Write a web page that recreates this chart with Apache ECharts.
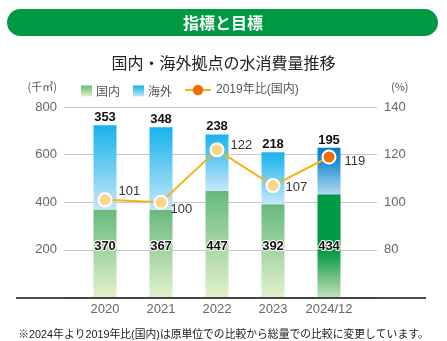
<!DOCTYPE html>
<html><head><meta charset="utf-8">
<script src="https://cdn.jsdelivr.net/npm/echarts@6/dist/echarts.min.js"></script>
<style>html,body{margin:0;padding:0;background:#fff}#c{width:447px;height:341px}</style>
</head><body><div id="c"></div>
<script>
const categories = ['2020', '2021', '2022', '2023', '2024/12'];
const domestic = [370, 367, 447, 392, 434];
const overseas = [353, 348, 238, 218, 195];
const ratio2019 = [101, 100, 122, 107, 119];
const leftTicks = [0, 200, 400, 600, 800];
const rightTicks = [60, 80, 100, 120, 140];

const FONT = '"Liberation Sans", "Noto Sans CJK JP", sans-serif';
const JP = '"Noto Sans CJK JP", "Liberation Sans", sans-serif';
function lg(stops){return {type:'linear',x:0,y:0,x2:0,y2:1,colorStops:stops.map(s=>({offset:s[0],color:s[1]}))};}
const domGrad = lg([[0,'#66BA7B'],[1,'#E3F1CB']]);
const domGradLast = lg([[0,'#009944'],[0.55,'#009944'],[0.8,'#6FBF80'],[1,'#C3E3BC']]);
const ovGrad = lg([[0,'#16B3EC'],[1,'#C6E7F8']]);
const ovGradLast = lg([[0,'#0080CC'],[0.3,'#1C8ED2'],[1,'#B2D8F1']]);
const labelOffsets = [[1,-8],[-3,7],[1,-4],[0,2],[3,4]];
const last = categories.length - 1;

const chart = echarts.init(document.getElementById('c'), null, {renderer:'canvas'});
chart.setOption({
  animation:false,
  textStyle:{fontFamily:FONT},
  title:[
    {text:'国内・海外拠点の水消費量推移', left:'center', top:50, textStyle:{fontFamily:JP, fontSize:16, fontWeight:'normal', color:'#222'}},
    {text:'※2024年より2019年比(国内)は原単位での比較から総量での比較に変更しています。', left:'center', top:325, textStyle:{fontFamily:FONT, fontSize:10.8, fontWeight:'normal', color:'#222'}}
  ],
  graphic:[
    {type:'rect', shape:{x:7,y:9,width:431,height:27,r:13.5}, style:{fill:'#009944'}},
    {type:'text', x:223, y:23, style:{text:'指標と目標', fill:'#fff', font:'bold 16px "Noto Sans CJK JP"', align:'center', verticalAlign:'middle'}},
    {type:'line', z:10, shape:{x1:16,y1:298,x2:426,y2:298}, style:{stroke:'#111', lineWidth:1.4}}
  ],
  legend:[
    {left:76, top:80, itemWidth:11, itemHeight:11, itemGap:13, icon:'rect',
     data:['国内','海外'], textStyle:{fontFamily:JP, fontSize:12, color:'#555', padding:[0,0,0,-1]}},
    {left:179, top:79, itemWidth:26, itemHeight:13, 
     data:[{name:'2019年比(国内)', itemStyle:{color:'#EE6C00', borderWidth:0}}], textStyle:{fontFamily:FONT, fontSize:12, color:'#555'}}
  ],
  grid:[
    {left:77, right:90, top:107, bottom:43.5},
    {left:64, right:70, top:107, bottom:43.5}
  ],
  xAxis:[
    {type:'category', gridIndex:0, data:categories, axisLine:{show:false}, axisTick:{show:false},
     axisLabel:{interval:0, margin:5, fontSize:13, color:'#666'}},
    {type:'category', gridIndex:1, data:categories, show:false}
  ],
  yAxis:[
    {type:'value', gridIndex:0, min:leftTicks[0], max:leftTicks[leftTicks.length-1], interval:200, show:false, splitLine:{show:false}},
    {type:'value', gridIndex:0, position:'right', min:rightTicks[0], max:rightTicks[rightTicks.length-1], interval:20, show:false, splitLine:{show:false}},
    {type:'value', gridIndex:1, min:leftTicks[0], max:leftTicks[leftTicks.length-1], interval:200,
     name:'(千㎥)', nameLocation:'end', nameGap:15, nameTextStyle:{fontFamily:JP, fontSize:11, color:'#555', align:'right', padding:[0,7,0,0]},
     axisLine:{show:false}, axisTick:{show:false},
     axisLabel:{showMinLabel:false, margin:7, fontSize:13, color:'#666'},
     splitLine:{lineStyle:{color:'#C8C8C8', width:1}}},
    {type:'value', gridIndex:1, position:'right', min:rightTicks[0], max:rightTicks[rightTicks.length-1], interval:20,
     name:'(%)', nameLocation:'end', nameGap:15, nameTextStyle:{fontFamily:JP, fontSize:11, color:'#555', align:'left', padding:[0,0,0,14]},
     axisLine:{show:false}, axisTick:{show:false},
     axisLabel:{showMinLabel:false, margin:7, fontSize:13, color:'#666'},
     splitLine:{show:false}}
  ],
  series:[
    {name:'国内', type:'bar', stack:'t', xAxisIndex:0, yAxisIndex:0, barWidth:23,
     itemStyle:{color:domGrad},
     data:domestic.map((v,i)=> i===last ? {value:v, itemStyle:{color:domGradLast}} : v),
     label:{show:true, position:'insideBottom', distance:45, fontSize:13, fontWeight:'bold', color:'#111', textBorderColor:'#fff', textBorderWidth:2}},
    {name:'海外', type:'bar', stack:'t', xAxisIndex:0, yAxisIndex:0, barWidth:23,
     itemStyle:{color:ovGrad},
     data:overseas.map((v,i)=> i===last ? {value:v, itemStyle:{color:ovGradLast}} : v),
     label:{show:true, position:'top', distance:1, fontSize:13, fontWeight:'bold', color:'#111', textBorderColor:'#fff', textBorderWidth:2}},
    {name:'2019年比(国内)', type:'line', xAxisIndex:0, yAxisIndex:1, z:5,
     symbol:'circle', symbolSize:13,
     lineStyle:{color:'#F5B21A', width:2},
     itemStyle:{color:'#FDD68C', borderColor:'#fff', borderWidth:2},
     data:ratio2019.map((v,i)=>({value:v,
        itemStyle: i===last ? {color:'#EE6C00', borderColor:'#fff', borderWidth:2} : undefined,
        label:{offset:labelOffsets[i]}})),
     label:{show:true, position:'right', distance:5, fontSize:13, color:'#333'}}
  ]
});
</script></body></html>
